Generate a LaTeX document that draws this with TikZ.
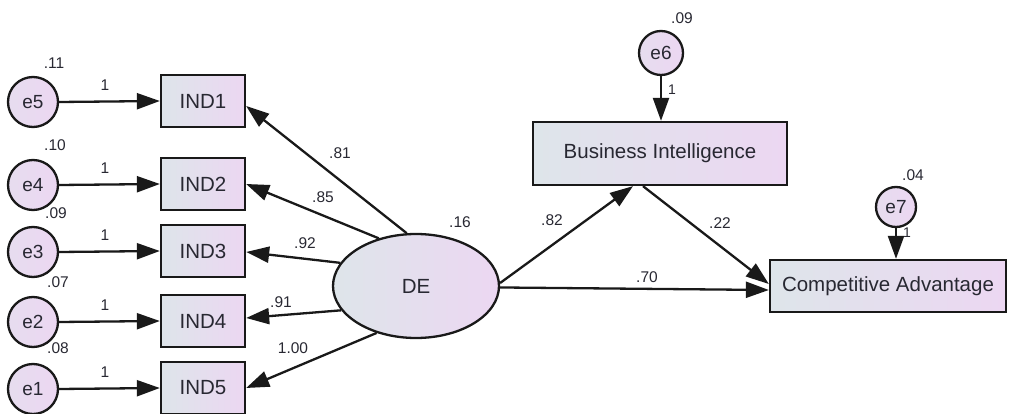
\documentclass[tikz,border=0pt]{standalone}
\usepackage{fontspec}
\setmainfont{Liberation Sans}
\usetikzlibrary{arrows.meta,shapes.geometric}
\definecolor{shl}{RGB}{222,229,234}
\definecolor{shr}{RGB}{236,215,242}
\definecolor{linec}{RGB}{25,25,25}
\definecolor{txtc}{RGB}{40,40,50}
\tikzset{
  obs/.style={draw=linec, line width=2.3pt, left color=shl, right color=shr, rectangle, inner sep=0pt, font=\fontsize{20.5}{22}\selectfont, text=txtc},
  err/.style={draw=linec, line width=2.3pt, left color=shl!40!shr, right color=shr, circle, inner sep=0pt, font=\fontsize{19}{21}\selectfont, text=txtc},
  lat/.style={draw=linec, line width=2.3pt, left color=shl, right color=shr, ellipse, inner sep=0pt, minimum width=166pt, minimum height=104pt, font=\fontsize{20.5}{22}\selectfont, text=txtc},
  path/.style={draw=linec, line width=2.3pt, -{Triangle[length=23pt,width=16pt]}},
  lbl/.style={font=\fontsize{15.5}{17}\selectfont, text=txtc, inner sep=0pt},
  slbl/.style={font=\fontsize{14}{16}\selectfont, text=txtc, inner sep=0pt}
}
\begin{document}
\begin{tikzpicture}[x=1pt,y=-1pt]
\useasboundingbox (0,0) rectangle (1009,414);
% indicators
\foreach \n/\e/\y in {1/5/101,2/4/184,3/3/251,4/2/321,5/1/388}{
  \node[obs, minimum width=84pt, minimum height=52pt] (IND\n) at (203,\y) {IND\n};
  \node[err, minimum size=50pt] (e\e) at (33,\y+1) {e\e};
  \draw[path] (e\e.east) -- (IND\n.west);
  \node[lbl] (one\e) at (105,\y-16) {1};
}
\node[lbl] (v5) at (54,63) {.11};
\node[lbl] (v4) at (55,145) {.10};
\node[lbl] (v3) at (56,213) {.09};
\node[lbl] (v2) at (58,282) {.07};
\node[lbl] (v1) at (58,348) {.08};
% latent
\node[lat] (DE) at (416,286) {DE};
\node[lbl] (vDE) at (460,222) {.16};
\draw[path] (DE.100) -- ([yshift=-5pt]IND1.east);
\draw[path] (DE.128) -- (IND2.east);
\draw[path] (DE.163) -- ([yshift=-1pt]IND3.east);
\draw[path] (DE.198) -- ([yshift=3pt]IND4.east);
\draw[path] (DE.230) -- (IND5.east);
\node[lbl] (l1) at (340,153) {.81};
\node[lbl] (l2) at (323,197) {.85};
\node[lbl] (l3) at (305,243) {.92};
\node[lbl] (l4) at (281,302) {.91};
\node[lbl] (l5) at (293,348) {1.00};
% structural
\node[obs, minimum width=254pt, minimum height=63pt] (BI) at (660,153.5) {Business Intelligence};
\node[obs, minimum width=236pt, minimum height=52pt] (CA) at (888,286) {Competitive Advantage};
\node[err, minimum size=44pt] (e6) at (661,53) {e6};
\node[err, minimum size=40pt] (e7) at (896,207) {e7};
\node[lbl] (v6) at (682,18) {.09};
\node[lbl] (v7) at (913,175) {.04};
\draw[path] (e6.south) -- (e6.south |- BI.north);
\draw[path] (e7.south) -- (e7.south |- CA.north);
\node[slbl] (o6) at (672,90) {1};
\node[slbl] (o7) at (907,233) {1};
\draw[path] (DE.2) -- ([xshift=-27pt]BI.south);
\draw[path] ([xshift=-17pt]BI.south) -- ([yshift=2pt]CA.west);
\draw[path] (DE.-1) -- ([yshift=-4pt]CA.west);
\node[lbl] (l6) at (552,220) {.82};
\node[lbl] (l7) at (720,223) {.22};
\node[lbl] (l8) at (647,277) {.70};
\end{tikzpicture}
\end{document}
